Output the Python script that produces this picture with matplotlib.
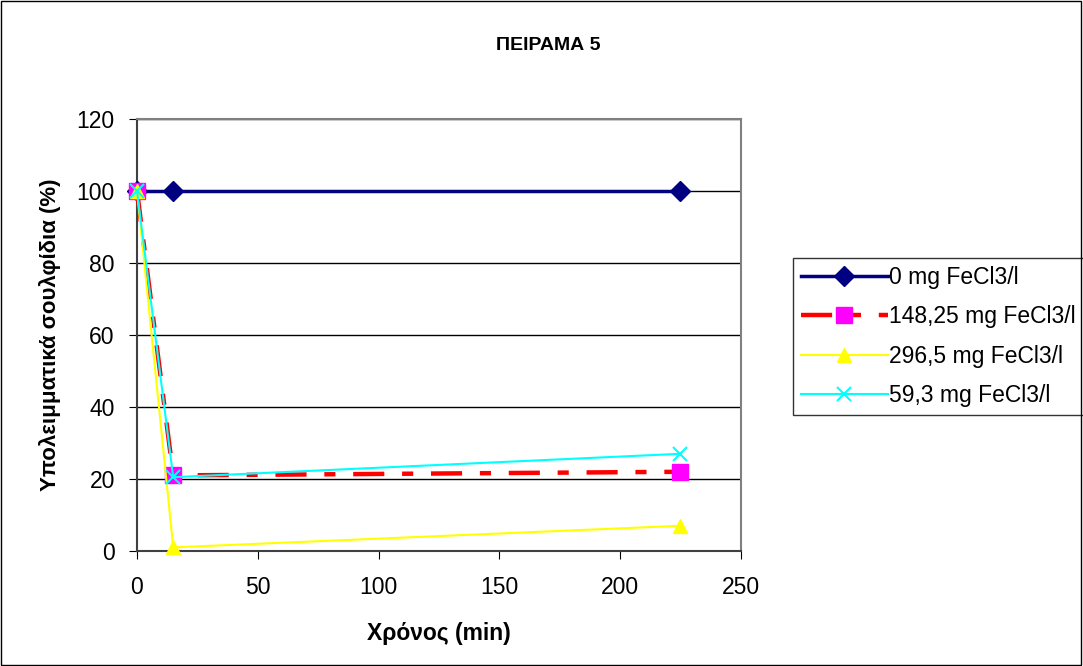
import matplotlib.pyplot as plt
from matplotlib.patches import Rectangle

plt.rcParams["font.family"] = ["Liberation Sans", "DejaVu Sans"]

# time points (min) and residual sulphide (%) per FeCl3 dose
time_min = [0, 15, 225]
dose_0 = [100, 100, 100]
dose_148 = [100, 21, 22]
dose_296 = [100, 1, 7]
dose_59 = [100, 20.5, 27]

labels = ["0 mg FeCl3/l", "148,25 mg FeCl3/l", "296,5 mg FeCl3/l", "59,3 mg FeCl3/l"]

fig = plt.figure(figsize=(10.83, 6.66), dpi=100)
fig.patches.append(Rectangle((0.001, 0.002), 0.997, 0.996, transform=fig.transFigure,
                             fill=False, edgecolor="black", linewidth=1.0))

ax = fig.add_axes([0.1265, 0.1727, 0.5575, 0.6486])

ax.plot(time_min, dose_0, color="#000080", linewidth=2.5, marker="D", markersize=10,
        markerfacecolor="#000080", markeredgecolor="#000080", label=labels[0],
        zorder=3, clip_on=False)
ax.plot(time_min, dose_148, color="#ff0000", linewidth=3.2, dashes=(7, 4, 2.5, 4),
        marker="s", markersize=12, markerfacecolor="#ff00ff", markeredgecolor="#ff00ff",
        label=labels[1], zorder=4, clip_on=False)
ax.plot(time_min, dose_296, color="#ffff00", linewidth=1.5, marker="^", markersize=10,
        markerfacecolor="#ffff00", markeredgecolor="#ffff00", label=labels[2],
        zorder=5, clip_on=False)
ax.plot(time_min, dose_59, color="#00ffff", linewidth=1.5, marker="x", markersize=10,
        markeredgewidth=1.5, label=labels[3], zorder=6, clip_on=False)

ax.set_xlim(0, 250)
ax.set_ylim(0, 120)
ax.set_xticks([0, 50, 100, 150, 200, 250])
ax.set_yticks([0, 20, 40, 60, 80, 100, 120])
ax.tick_params(labelsize=16.5, length=6, direction="out", color="black")
ax.tick_params(axis="x", pad=12)
ax.tick_params(axis="y", pad=10)
ax.yaxis.grid(True, color="black", linewidth=1.0)
ax.set_axisbelow(True)
for side in ["top", "right"]:
    ax.spines[side].set_color("#808080")
    ax.spines[side].set_linewidth(1.5)
for side in ["left", "bottom"]:
    ax.spines[side].set_color("#404040")
    ax.spines[side].set_linewidth(1.5)

ax.set_xlabel("Χρόνος (min)", fontsize=16.5, fontweight="bold", va="center")
ax.xaxis.set_label_coords(0.5, -0.19)
ax.set_ylabel("Υπολειμματικά σουλφίδια (%)", fontsize=16, fontweight="bold", va="center")
ax.yaxis.set_label_coords(-0.144, 0.5)
fig.text(0.506, 0.931, "ΠΕΙΡΑΜΑ 5", fontsize=14, fontweight="bold", ha="center", va="center")

leg = ax.legend(loc="upper left", bbox_to_anchor=(0.732, 0.613), bbox_transform=fig.transFigure,
                fontsize=16.5, frameon=True, fancybox=False, edgecolor="black",
                borderpad=0.35, labelspacing=0.72, handlelength=3.8, handletextpad=0.05,
                borderaxespad=0)
leg.get_frame().set_linewidth(1.0)

fig.savefig("out.png", dpi=100)
